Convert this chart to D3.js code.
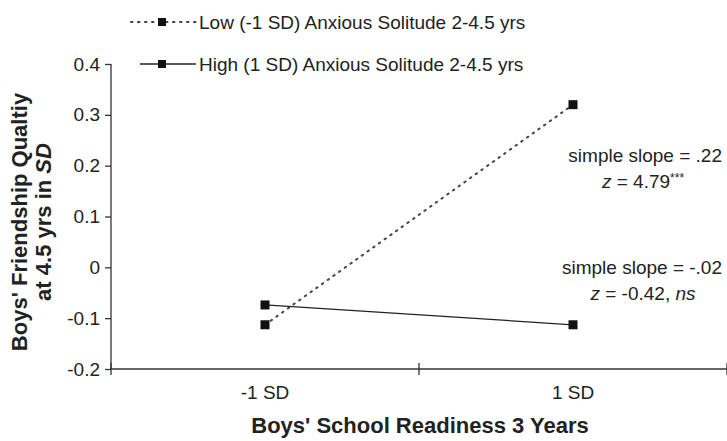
<!DOCTYPE html>
<html>
<head>
<meta charset="utf-8">
<script src="https://cdn.jsdelivr.net/npm/d3@7"></script>
<style>
  body { margin: 0; background: #fff; }
  text { font-family: "Liberation Sans", Arial, sans-serif; fill: #222; }
</style>
</head>
<body>
<svg id="vis" width="727" height="441"></svg>
<script>
// data
var categories = ["-1 SD", "1 SD"];
var lowSeries = [-0.113, 0.32];
var highSeries = [-0.074, -0.113];
var yTicks = [-0.2, -0.1, 0, 0.1, 0.2, 0.3, 0.4];
var yTickLabels = ["-0.2", "-0.1", "0", "0.1", "0.2", "0.3", "0.4"];
var legendLabels = ["Low (-1 SD) Anxious Solitude 2-4.5 yrs", "High (1 SD) Anxious Solitude 2-4.5 yrs"];

var svg = d3.select("#vis");

var plotLeft = 111, plotRight = 727, plotTop = 64, plotBottom = 369;

var x = d3.scaleBand().domain(categories).range([plotLeft, plotRight]);
var y = d3.scaleLinear().domain([-0.2, 0.4]).range([plotBottom, plotTop]);
var xc = function (d) { return x(d) + x.bandwidth() / 2; };

// y axis
var yAxis = svg.append("g")
    .attr("transform", "translate(" + plotLeft + ",0)")
    .call(d3.axisLeft(y).tickValues(yTicks).tickSize(6).tickPadding(5)
        .tickFormat(function (d, i) { return yTickLabels[i]; }));
yAxis.select(".domain").attr("stroke", "#333").attr("stroke-width", 1.3)
    .attr("d", "M0," + plotTop + "V" + plotBottom);
yAxis.selectAll(".tick line").attr("stroke", "#333").attr("stroke-width", 1.3);
yAxis.selectAll(".tick text").style("font-size", "19px").attr("fill", "#222")
    .style("font-family", "'Liberation Sans', Arial, sans-serif");

// x axis, ticks sit on the band edges
var xAxis = svg.append("g").attr("transform", "translate(0," + plotBottom + ")");
xAxis.append("line").attr("x1", plotLeft).attr("x2", plotRight)
    .attr("stroke", "#333").attr("stroke-width", 1.3);
var edges = [plotLeft].concat(categories.map(function (c) { return x(c) + x.bandwidth(); }));
xAxis.selectAll("line.edge").data(edges).enter().append("line")
    .attr("class", "edge")
    .attr("x1", function (d) { return d; }).attr("x2", function (d) { return d; })
    .attr("y1", -6).attr("y2", 6)
    .attr("stroke", "#333").attr("stroke-width", 1.3);
xAxis.selectAll("text.cat").data(categories).enter().append("text")
    .attr("class", "cat")
    .attr("x", xc).attr("y", 30)
    .attr("text-anchor", "middle")
    .style("font-size", "19px")
    .text(function (d) { return d; });

// axis titles
svg.append("text")
    .attr("x", 420).attr("y", 433)
    .attr("text-anchor", "middle")
    .style("font-size", "22px").style("font-weight", "bold")
    .text("Boys' School Readiness 3 Years");

var yTitle = svg.append("g").attr("transform", "translate(0,222) rotate(-90)");
yTitle.append("text").attr("x", 0).attr("y", 27)
    .attr("text-anchor", "middle")
    .style("font-size", "22px").style("font-weight", "bold")
    .text("Boys' Friendship Qualtiy");
var t2 = yTitle.append("text").attr("x", 0).attr("y", 51)
    .attr("text-anchor", "middle")
    .style("font-size", "22px").style("font-weight", "bold");
t2.append("tspan").text("at 4.5 yrs in ");
t2.append("tspan").style("font-style", "italic").text("SD");

// lines
var line = d3.line()
    .x(function (d, i) { return xc(categories[i]); })
    .y(function (d) { return y(d); });

svg.append("path").datum(lowSeries)
    .attr("fill", "none").attr("stroke", "#444").attr("stroke-width", 2)
    .attr("stroke-dasharray", "1.5,5.5").attr("stroke-linecap", "round")
    .attr("d", line);
svg.append("path").datum(highSeries)
    .attr("fill", "none").attr("stroke", "#222").attr("stroke-width", 1.3)
    .attr("d", line);

[lowSeries, highSeries].forEach(function (s) {
    svg.selectAll(null).data(s).enter().append("rect")
        .attr("x", function (d, i) { return xc(categories[i]) - 4.5; })
        .attr("y", function (d) { return y(d) - 4.5; })
        .attr("width", 9).attr("height", 9)
        .attr("fill", "#111");
});

// legend
var legendY = [22, 64];
legendLabels.forEach(function (lab, i) {
    var g = svg.append("g").attr("transform", "translate(0," + legendY[i] + ")");
    if (i === 0) {
        g.append("line").attr("x1", 131).attr("x2", 196)
            .attr("stroke", "#444").attr("stroke-width", 2)
            .attr("stroke-dasharray", "1.5,5.5").attr("stroke-linecap", "round");
    } else {
        g.append("line").attr("x1", 140).attr("x2", 196)
            .attr("stroke", "#222").attr("stroke-width", 1.3);
    }
    g.append("rect").attr("x", 158).attr("y", -4).attr("width", 8).attr("height", 8).attr("fill", "#111");
    g.append("text").attr("x", 199).attr("y", 7)
        .style("font-size", "19px").text(lab);
});

// slope notes
function annot(yy, l1, parts) {
    svg.append("text").attr("x", 722).attr("y", yy)
        .attr("text-anchor", "end").style("font-size", "19px").text(l1);
    var t = svg.append("text").attr("x", 643).attr("y", yy + 26)
        .attr("text-anchor", "middle").style("font-size", "19px");
    parts.forEach(function (p) {
        var s = t.append("tspan").text(p.t);
        if (p.i) s.style("font-style", "italic");
        if (p.sup) s.style("font-size", "12px").attr("dy", -6);
    });
}
annot(162, "simple slope = .22", [{t: "z", i: true}, {t: " = 4.79"}, {t: "***", sup: true}]);
annot(274, "simple slope = -.02", [{t: "z", i: true}, {t: " = -0.42, "}, {t: "ns", i: true}]);
</script>
</body>
</html>
